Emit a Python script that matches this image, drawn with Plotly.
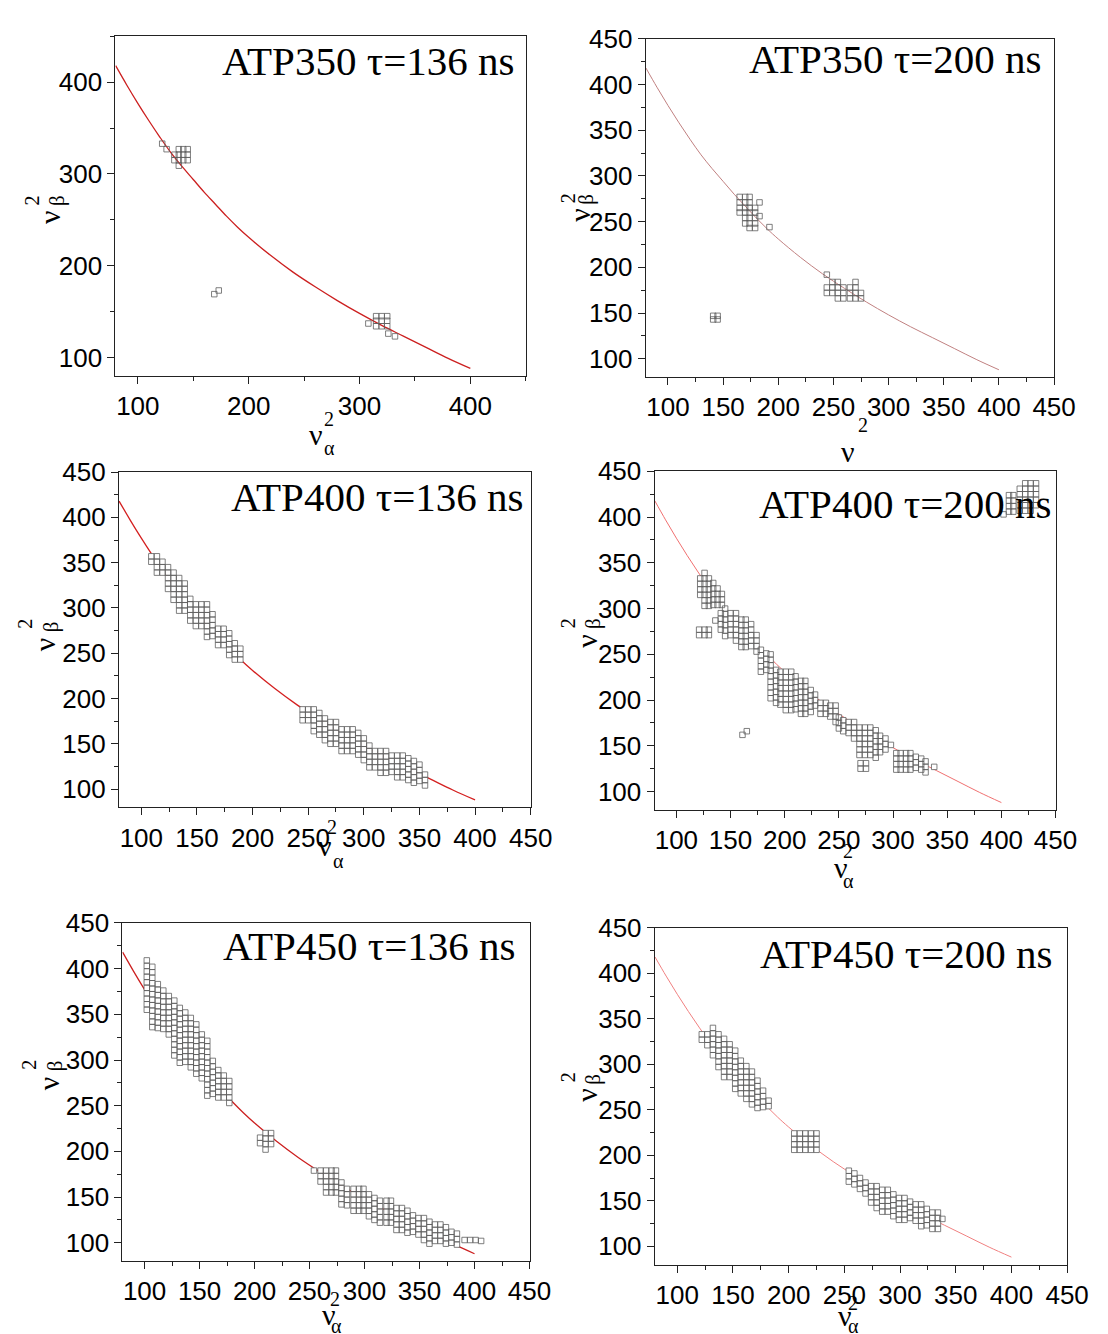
import numpy as np
import plotly.graph_objects as go

W, H = 1108, 1334

# fitted curve, the same in every panel
curve_x = [80, 90, 100, 110, 120, 130, 140, 150, 160, 170, 180, 190, 200, 220, 240, 260, 280, 300, 320, 340, 360, 380, 400]
curve_y = [418, 397, 377, 358, 340, 323, 308, 294, 280, 267, 254, 242, 231, 211, 193, 177, 162, 148, 135, 123, 111, 99, 88]

titles = ["ATP350 τ=136 ns", "ATP350 τ=200 ns", "ATP400 τ=136 ns",
          "ATP400 τ=200 ns", "ATP450 τ=136 ns", "ATP450 τ=200 ns"]

# ATP350 136 ns: single points
p1_x = [122, 126, 133, 133, 137, 141, 145, 137, 141, 145, 137, 141, 145, 137,
        169, 173, 308, 315, 320, 325, 315, 320, 325, 315, 320, 325, 326, 332]
p1_y = [333, 327, 321, 315, 327, 327, 327, 321, 321, 321, 315, 315, 315, 309,
        169, 173, 137, 145, 145, 145, 140, 140, 140, 134, 134, 134, 126, 123]

# ATP350 200 ns: single points
p2_x = [165, 165, 165, 165, 170, 170, 170, 170, 170, 170, 174, 174, 174, 174, 174, 174, 174,
        179, 179, 179, 179, 179, 183, 183, 192,
        244, 244, 244, 249, 249, 249, 254, 254, 254, 254, 259, 259, 259, 265, 265, 265,
        270, 270, 270, 270, 275, 275, 141, 145, 141, 145]
p2_y = [277, 271, 265, 260, 277, 271, 265, 260, 254, 248, 277, 271, 265, 260, 254, 248, 243,
        265, 260, 254, 248, 243, 271, 256, 244,
        192, 178, 172, 184, 178, 172, 184, 178, 172, 166, 178, 172, 166, 178, 172, 166,
        184, 178, 172, 166, 172, 166, 147, 147, 143, 143]

# the dense panels: one entry per column of squares (x, top y, bottom y)
p3_col_x = [109, 114, 119, 124, 129, 134, 139, 144, 149, 154, 159, 164, 169, 174, 179, 184, 189,
            245, 250, 255, 260, 265, 270, 275, 280, 285, 290, 295, 300, 305, 310, 315, 320,
            325, 330, 335, 340, 345, 350, 355]
p3_col_top = [357, 357, 351, 345, 339, 333, 327, 310, 304, 304, 304, 293, 277, 277, 272, 261, 255,
              188, 188, 188, 184, 178, 174, 174, 166, 166, 166, 162, 156, 148, 142, 142, 142,
              137, 137, 137, 134, 131, 127, 116]
p3_col_bot = [349, 337, 337, 320, 308, 298, 298, 286, 280, 280, 270, 270, 259, 259, 249, 243, 243,
              177, 173, 166, 161, 155, 153, 153, 145, 140, 140, 140, 132, 125, 123, 119, 119,
              119, 115, 115, 112, 107, 107, 107]

p4_col_x = [122, 126, 130, 134, 138, 142, 121, 126, 130,
            136, 141, 145, 150, 155, 160, 164, 169, 174,
            178, 183, 187, 192, 196, 201, 206, 210, 215, 219, 224, 228,
            233, 238, 242, 247, 250,
            254, 259, 264, 269, 274, 279, 284, 288, 293, 298,
            270, 275, 303, 307, 312, 316, 321, 326, 330, 338, 161, 165,
            402, 407, 411, 417, 422, 427, 432]
p4_col_top = [333, 339, 333, 328, 322, 316, 277, 277, 277,
              287, 295, 300, 295, 295, 288, 288, 283, 271,
              255, 251, 250, 233, 231, 231, 231, 226, 221, 221, 211, 206,
              197, 197, 194, 194, 181,
              178, 176, 176, 170, 170, 170, 167, 161, 158, 151,
              131, 131, 142, 142, 142, 142, 138, 136, 133, 127, 162, 166,
              403, 424, 424, 431, 437, 437, 437]
p4_col_bot = [314, 303, 303, 303, 303, 303, 270, 270, 270,
              287, 276, 270, 270, 264, 259, 259, 259, 254,
              233, 231, 204, 199, 193, 187, 187, 187, 187, 187, 187, 192,
              186, 183, 183, 177, 166,
              166, 163, 156, 141, 141, 141, 138, 141, 145, 151,
              123, 123, 126, 126, 123, 123, 123, 123, 123, 127, 162, 166,
              403, 408, 408, 408, 408, 408, 415]

p5_col_x = [102, 107, 112, 117, 122, 127, 132, 137, 142, 147, 152, 157, 162, 167, 172, 177,
            205, 210, 215,
            254, 260, 265, 270, 274, 279, 284, 290, 295, 299, 304, 309, 314, 320, 324, 329,
            334, 339, 344, 349, 354, 359, 364, 369, 374, 379, 384, 391, 396, 401, 406]
p5_col_top = [409, 402, 383, 376, 370, 365, 357, 352, 346, 339, 328, 321, 299, 289, 283, 277,
              215, 220, 220,
              179, 179, 179, 179, 179, 166, 159, 159, 159, 159, 153, 149, 146, 146, 146, 138,
              138, 135, 130, 127, 127, 123, 120, 120, 117, 112, 110, 103, 103, 103, 102]
p5_col_bot = [357, 338, 338, 332, 326, 303, 299, 299, 292, 287, 283, 264, 264, 259, 259, 254,
              209, 204, 209,
              179, 164, 156, 156, 152, 145, 143, 137, 137, 137, 132, 125, 125, 121, 121, 117,
              117, 110, 110, 108, 101, 101, 101, 101, 101, 101, 101, 103, 103, 103, 102]

p6_col_x = [122, 127, 132, 137, 142, 147, 152, 157, 162, 167, 172, 177, 182,
            205, 210, 215, 220, 225,
            254, 259, 264, 269, 274, 279, 284, 289, 294, 299, 304, 309, 314, 319, 324, 329, 334, 338]
p6_col_top = [333, 333, 340, 333, 328, 322, 315, 304, 298, 292, 282, 271, 260,
              224, 224, 224, 224, 224,
              183, 180, 175, 170, 166, 166, 162, 162, 157, 153, 153, 149, 146, 146, 141, 137, 137, 130]
p6_col_bot = [326, 320, 309, 297, 286, 286, 275, 270, 264, 259, 253, 253, 255,
              206, 206, 206, 206, 206,
              170, 165, 163, 158, 148, 144, 139, 139, 134, 129, 129, 129, 128, 125, 121, 121, 121, 130]


def columns_to_points(xs, tops, bots, step=6):
    px, py = [], []
    for x, t, b in zip(xs, tops, bots):
        n = int(round((t - b) / step)) + 1
        for k in range(n):
            px.append(x)
            py.append(t - k * step)
    return px, py


points = [
    (p1_x, p1_y),
    (p2_x, p2_y),
    columns_to_points(p3_col_x, p3_col_top, p3_col_bot),
    columns_to_points(p4_col_x, p4_col_top, p4_col_bot),
    columns_to_points(p5_col_x, p5_col_top, p5_col_bot),
    columns_to_points(p6_col_x, p6_col_top, p6_col_bot),
]

ticks50 = [100, 150, 200, 250, 300, 350, 400, 450]

# page layout in pixels: plot box (left, top, right, bottom), title anchor,
# axis-title glyph centres
panels = [
    dict(box=(109.5, 13.3, 528, 357), title=(518, 38), line=("#cc2020", 1.3), major=[100, 200, 300, 400], minor=50,
         xt=dict(nu=(314, 416), two=(327, 401), sub=(328, 430)), yt=dict(nu=(43, 196), two=(24, 180), sub=(50, 180))),
    dict(box=(650, 15.7, 1066.5, 358.3), title=(1055, 36), line=("#c08080", 1.0), major=ticks50, minor=25,
         xt=dict(nu=(856, 433), two=(872, 407), sub=None), yt=dict(nu=(583, 194), two=(571, 177), sub=(589, 178))),
    dict(box=(113, 454, 533, 793.3), title=(527, 479), line=("#d42020", 1.3), major=ticks50, minor=25,
         xt=dict(nu=(323, 832), two=(330, 813), sub=(337, 848)), yt=dict(nu=(38, 628), two=(18, 608), sub=(44, 611))),
    dict(box=(659, 453.3, 1068, 796), title=(1065, 486), line=("#f07070", 1.0), major=ticks50, minor=25,
         xt=dict(nu=(849, 854), two=(856, 837), sub=(857, 868)), yt=dict(nu=(590, 625), two=(571, 607), sub=(596, 607))),
    dict(box=(116.6, 910, 531.8, 1252.3), title=(519, 933), line=("#cc2020", 1.3), major=ticks50, minor=25,
         xt=dict(nu=(327, 1306), two=(333, 1291), sub=(335, 1318)), yt=dict(nu=(42, 1072), two=(22, 1054), sub=(48, 1055))),
    dict(box=(659.3, 915, 1079.8, 1255.7), title=(1066, 942), line=("#f08080", 1.0), major=ticks50, minor=25,
         xt=dict(nu=(853, 1307), two=(861, 1295), sub=(862, 1318)), yt=dict(nu=(590, 1084), two=(571, 1066), sub=(596, 1068))),
]


def fx(p):
    return p / W


def fy(p):
    return 1 - p / H


def label(x, y, text, size, angle=0, anchor="center"):
    return dict(x=fx(x), y=fy(y), xref="paper", yref="paper", xanchor=anchor, yanchor="middle",
                text=text, textangle=angle, showarrow=False,
                font=dict(family="Liberation Serif, Times New Roman, serif", size=size, color="black"))


fig = go.Figure()
annotations = []

for i, (pan, (sx, sy)) in enumerate(zip(panels, points), start=1):
    xa = "x" if i == 1 else f"x{i}"
    ya = "y" if i == 1 else f"y{i}"
    l, t, r, b = pan["box"]
    axis = dict(range=[79.8, 450.2], showline=True, linecolor="#222222", linewidth=1, mirror=True,
                ticks="outside", ticklen=7, tickwidth=1, tickcolor="#222222",
                tickmode="array", tickvals=pan["major"], ticktext=[str(v) for v in pan["major"]],
                tickfont=dict(family="Liberation Sans, Arial, sans-serif", size=26, color="black"),
                minor=dict(ticks="outside", ticklen=4, tickwidth=1, tickcolor="#222222",
                           tick0=100, dtick=pan["minor"]),
                showgrid=False, zeroline=False)
    fig.update_layout(**{
        ("xaxis" if i == 1 else f"xaxis{i}"): dict(axis, domain=[fx(l), fx(r)], anchor=ya),
        ("yaxis" if i == 1 else f"yaxis{i}"): dict(axis, domain=[fy(b), fy(t)], anchor=xa),
    })

    color, width = pan["line"]
    fig.add_trace(go.Scatter(x=curve_x, y=curve_y, mode="lines", line=dict(color=color, width=width, shape="spline"),
                             xaxis=xa, yaxis=ya, showlegend=False, hoverinfo="skip"))
    if i > 2:
        # white backing so the curve does not show through the dense blocks
        fig.add_trace(go.Scatter(x=sx, y=sy, mode="markers",
                                 marker=dict(symbol="square", size=5.5, color="white", line=dict(width=0)),
                                 xaxis=xa, yaxis=ya, showlegend=False, hoverinfo="skip"))
    fig.add_trace(go.Scatter(x=sx, y=sy, mode="markers",
                             marker=dict(symbol="square-open", size=5.5, color="#5e5e5e", line=dict(width=0.8)),
                             xaxis=xa, yaxis=ya, showlegend=False))

    tx, ty = pan["title"]
    annotations.append(label(tx, ty, titles[i - 1], 41, anchor="right"))

    # x-axis title: nu with stacked 2 / alpha
    xt = pan["xt"]
    annotations.append(label(*xt["nu"], "ν", 30))
    annotations.append(label(*xt["two"], "2", 20))
    if xt["sub"] is not None:
        annotations.append(label(*xt["sub"], "α", 20))

    # y-axis title (rotated)
    yt = pan["yt"]
    annotations.append(label(*yt["nu"], "ν", 30, angle=-90))
    annotations.append(label(*yt["two"], "2", 20, angle=-90))
    annotations.append(label(*yt["sub"], "β", 21, angle=-90))

fig.update_layout(width=W, height=H, margin=dict(l=0, r=0, t=0, b=0),
                  paper_bgcolor="white", plot_bgcolor="white", annotations=annotations)

fig.write_html("out.html")
